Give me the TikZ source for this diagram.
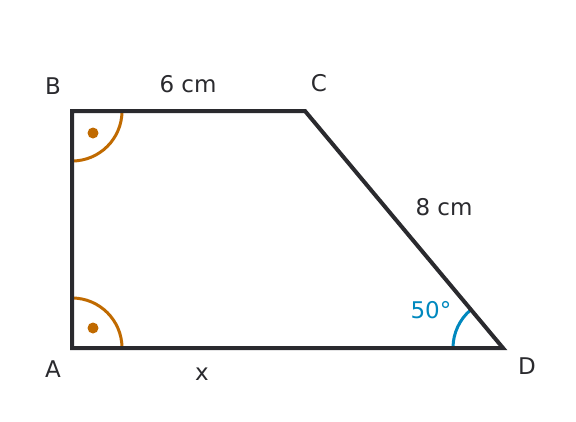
\documentclass[tikz,border=0pt]{standalone}
\usepackage{fontspec}
\setmainfont{DejaVu Sans}
\usetikzlibrary{positioning}

\definecolor{ink}{HTML}{2A2A2E}
\definecolor{rightang}{HTML}{C06A00}
\definecolor{angblue}{HTML}{0088BE}

\begin{document}
\begin{tikzpicture}[%
    x=1pt,
    y=-1pt,
    side/.style={draw=ink, line width=4pt, line join=miter},
    mark arc/.style={draw=rightang, line width=3pt},
    lbl/.style={text=ink, inner sep=0pt, font=\fontsize{23}{27}\selectfont},
    anglbl/.style={lbl, text=angblue}
  ]
  \useasboundingbox (0,0) rectangle (576,421);

  \coordinate (A) at (72,348);
  \coordinate (B) at (72,111);
  \coordinate (C) at (305,111);
  \coordinate (D) at (503,348);

  % angle marks (y axis points down, so angles run clockwise)
  \draw[mark arc] ([shift={(0,-50)}]A) arc[start angle=270, end angle=360, radius=50];
  \draw[mark arc] ([shift={(0,50)}]B) arc[start angle=90, end angle=0, radius=50];
  \fill[rightang] ([shift={(21,-20)}]A) circle (5.5);
  \fill[rightang] ([shift={(21,22)}]B) circle (5.5);
  \draw[draw=angblue, line width=3pt] ([shift={(-50,0)}]D) arc[start angle=180, end angle=230, radius=50];

  % trapezoid
  \draw[side] (A) -- (B) -- (C) -- (D) -- cycle;

  \node[lbl] (lA) at (53,369) {A};
  \node[lbl] (lB) at (53,86) {B};
  \node[lbl] (lC) at (319,83) {C};
  \node[lbl] (lD) at (527,366) {D};
  \node[lbl] (bc) at (188,84) {6 cm};
  \node[lbl] (cd) at (444,207) {8 cm};
  \node[lbl] (ad) at (202,374) {x};
  \node[anglbl] (alpha) at (431,310) {50°};
\end{tikzpicture}
\end{document}
